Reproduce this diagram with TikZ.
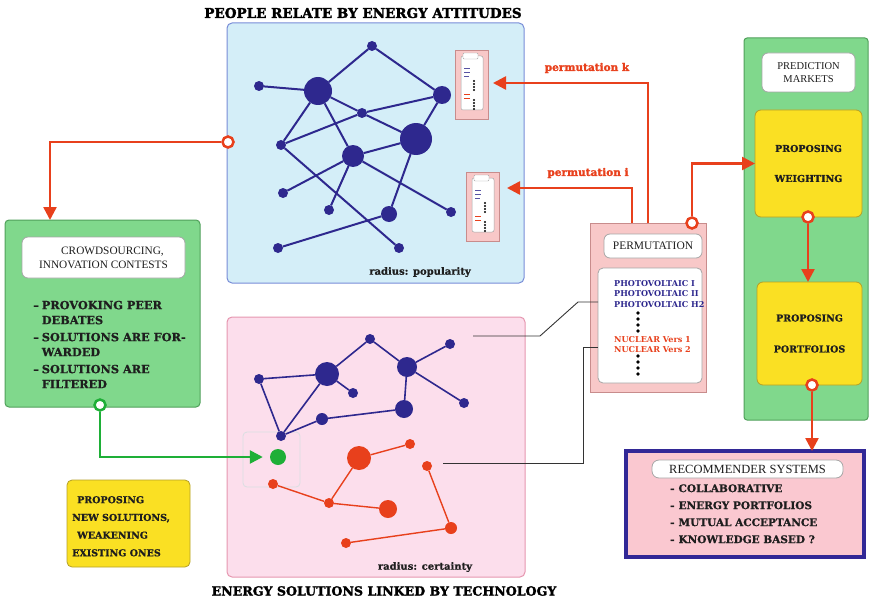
\documentclass[tikz,border=0pt]{standalone}
\usepackage{fontspec}
\setmainfont{Liberation Serif}
\newfontfamily\slab{DejaVu Serif}
\newfontfamily\heavyf{DejaVu Serif Bold}[FakeBold=2]
\newfontfamily\semiheavy{DejaVu Serif Bold}[FakeBold=0.8]
\usetikzlibrary{arrows.meta}
\definecolor{navy}{RGB}{46,40,142}
\definecolor{rorange}{RGB}{232,64,28}
\definecolor{gfill}{RGB}{128,216,140}
\definecolor{gborder}{RGB}{80,160,90}
\definecolor{garrow}{RGB}{30,175,55}
\definecolor{yfill}{RGB}{250,224,35}
\definecolor{yborder}{RGB}{180,160,40}
\definecolor{bluefill}{RGB}{212,238,248}
\definecolor{blueborder}{RGB}{120,140,215}
\definecolor{pinkfill}{RGB}{252,222,236}
\definecolor{pinkborder}{RGB}{230,150,175}
\definecolor{permfill}{RGB}{248,200,200}
\definecolor{permborder}{RGB}{200,140,140}
\definecolor{recfill}{RGB}{250,200,208}
\definecolor{recborder}{RGB}{50,40,150}
\definecolor{txt}{RGB}{30,30,30}
\newcommand\mycard[2]{%
\begin{scope}[shift={(#1,#2)}]
 \filldraw[fill=permfill, draw=permborder, line width=0.8pt] (0,0) rectangle (33,69);
 \filldraw[fill=white, draw=gray!70, rounded corners=2pt, line width=0.5pt] (6,6) rectangle (28,60);
 \filldraw[fill=white, draw=gray!70, rounded corners=1pt, line width=0.4pt] (8,3) rectangle (23,9);
 \draw[navy!80, line width=0.8pt] (9,18)--(15,18) (9,22)--(15,22) (9,26)--(14,26);
 \draw[rorange, line width=0.8pt] (9,44)--(15,44) (9,48)--(15,48);
 \foreach \d in {31,34,37,40,50,53,56,59} \fill[black] (19,\d) circle[radius=1.2pt];
\end{scope}}
\begin{document}
\begin{tikzpicture}[x=1pt,y=-1pt,
  panel/.style={draw, line width=1pt, rounded corners=5pt, inner sep=0pt, outer sep=0pt},
  sqbox/.style={draw, inner sep=0pt, outer sep=0pt},
  hdr/.style={draw=gray!70, fill=white, line width=0.8pt, rounded corners=6pt, inner sep=0pt, outer sep=0pt, text=txt, align=center},
  ybox/.style={draw=yborder, fill=yfill, line width=0.8pt, rounded corners=6pt, inner sep=0pt, outer sep=0pt, text=txt, align=center},
  nv/.style={circle, fill=navy, inner sep=0pt, outer sep=0pt, minimum size=#1},
  nr/.style={circle, fill=rorange, inner sep=0pt, outer sep=0pt, minimum size=#1},
  ring/.style={circle, draw=#1, fill=white, line width=2.5pt, inner sep=0pt, minimum size=11pt},
  redarrow/.style={draw=rorange, line width=2.5pt, -{Triangle[length=13pt,width=13pt]}},
  greenarrow/.style={draw=garrow, line width=2.5pt, -{Triangle[length=13pt,width=13pt]}},
  bedge/.style={draw=navy, line width=2pt},
  bedge2/.style={draw=navy, line width=1.6pt},
  redge/.style={draw=rorange, line width=1.4pt},
  blink/.style={draw=black!80, line width=0.9pt},
  heavy/.style={font=\heavyf\fontsize{13.5}{16}\selectfont, text=black},
  lbl/.style={font=\semiheavy\fontsize{10}{12}\selectfont, text=txt},
  redlbl/.style={font=\heavyf\fontsize{10.5}{12}\selectfont, text=rorange},
]
\useasboundingbox (0,0) rectangle (869,599);

% ---------- titles
\node[heavy] (title1) at (363,13) {PEOPLE RELATE BY ENERGY ATTITUDES};
\node[heavy, font=\heavyf\fontsize{12.6}{15}\selectfont] (title2) at (384,591) {ENERGY SOLUTIONS LINKED BY TECHNOLOGY};

% ---------- panels
\node[panel, fill=bluefill, draw=blueborder, minimum width=297pt, minimum height=260pt] (toppanel) at (375.5,153) {};
\node[panel, fill=pinkfill, draw=pinkborder, minimum width=298pt, minimum height=260pt] (botpanel) at (376,447) {};

% ---------- top network
\node[nv=10pt] (n1) at (259,86) {};
\node[nv=28pt] (n2) at (318,91) {};
\node[nv=10pt] (n3) at (372,46) {};
\node[nv=18pt] (n4) at (442,95) {};
\node[nv=10pt] (n5) at (362,113) {};
\node[nv=32pt] (n6) at (416,139) {};
\node[nv=10pt] (n7) at (281,145) {};
\node[nv=22pt] (n8) at (353,156) {};
\node[nv=10pt] (n9) at (283,193) {};
\node[nv=10pt] (n10) at (329,210) {};
\node[nv=16pt] (n11) at (389,214) {};
\node[nv=10pt] (n12) at (451,212) {};
\node[nv=10pt] (n13) at (278,248) {};
\node[nv=10pt] (n14) at (399,248) {};
\draw[bedge] (n1)--(n2) (n2)--(n3) (n3)--(n4) (n2)--(n7) (n2)--(n8) (n2)--(n5) (n5)--(n6)
  (n7)--(n5) (n5)--(n4) (n4)--(n6) (n6)--(n8) (n6)--(n11) (n8)--(n9) (n8)--(n10)
  (n8)--(n12) (n7)--(n14) (n11)--(n13);

\node[lbl] (pop) at (420,272) {radius: popularity};

% ---------- mini cards
\mycard{455}{50}
\mycard{466}{172}
\coordinate (kend) at (493,83);
\coordinate (iend) at (507,188);

% ---------- bottom network
\node[draw=cyan!15!gray!30, line width=0.8pt, rounded corners=4pt, minimum width=57pt, minimum height=55pt, inner sep=0pt] (hl) at (271.5,459.5) {};
\node[nv=10pt] (b1) at (259,379) {};
\node[nv=24pt] (b2) at (327,374) {};
\node[nv=10pt] (b3) at (370,339) {};
\node[nv=10pt] (b4) at (353,393) {};
\node[nv=20pt] (b5) at (407,367) {};
\node[nv=10pt] (b6) at (450,344) {};
\node[nv=10pt] (b7) at (464,403) {};
\node[nv=18pt] (b8) at (404,409) {};
\node[nv=12pt] (b9) at (322,419) {};
\node[nv=10pt] (b10) at (281,436) {};
\draw[bedge2] (b1)--(b2) (b2)--(b3) (b3)--(b5) (b5)--(b6) (b5)--(b7) (b5)--(b8)
  (b2)--(b4) (b2)--(b10) (b1)--(b10) (b10)--(b9) (b9)--(b8);
\node[nr=24pt] (r1) at (359,458) {};
\node[nr=10pt] (r2) at (410,444) {};
\node[nr=10pt] (r3) at (273,484) {};
\node[nr=10pt] (r4) at (329,503) {};
\node[nr=18pt] (r5) at (388,509) {};
\node[nr=10pt] (r6) at (427,466) {};
\node[nr=12pt] (r7) at (451,528) {};
\node[nr=10pt] (r8) at (346,543) {};
\draw[redge] (r1)--(r2) (r1)--(r4) (r3)--(r4) (r4)--(r5) (r6)--(r7) (r7)--(r8);
\node[circle, fill=garrow, inner sep=0pt, minimum size=16pt] (gdot) at (278,457) {};

\node[lbl] (cert) at (425,567) {radius: certainty};

% ---------- left green box
\node[panel, fill=gfill, draw=gborder, minimum width=195pt, minimum height=187pt, rounded corners=4pt] (crowd) at (102.5,313.5) {};
\node[hdr, minimum width=163pt, minimum height=41pt, font=\fontsize{11.3}{14}\selectfont] (crowdh) at (103.5,257.5) {\hspace*{18pt}CROWDSOURCING,\\INNOVATION CONTESTS};
\node[anchor=north west, inner sep=0pt, text=txt, font=\semiheavy\fontsize{11.3}{15}\selectfont] (crowdtxt) at (33,298.5)
 {\begin{tabular}{@{}l@{\hspace{3pt}}l@{}}
 – & PROVOKING PEER\\ & DEBATES\\[2pt]
 – & SOLUTIONS ARE FOR-\\ & WARDED\\[2pt]
 – & SOLUTIONS ARE\\ & FILTERED
 \end{tabular}};

% ---------- yellow box bottom left
\node[ybox, minimum width=123pt, minimum height=87pt, rounded corners=5pt] (newsol) at (128.5,523.5) {};
\node[anchor=north west, inner sep=0pt, text=txt, font=\semiheavy\fontsize{9.5}{17.7}\selectfont] (newsoltxt) at (72,490.6)
 {\begin{tabular}{@{}l@{}}
 \hspace{5pt}PROPOSING\\ NEW SOLUTIONS,\\ \hspace{5pt}WEAKENING\\ EXISTING ONES
 \end{tabular}};

% ---------- permutation box
\node[sqbox, fill=permfill, draw=permborder, line width=0.8pt, minimum width=116pt, minimum height=169pt] (perm) at (648,307.5) {};
\node[hdr, minimum width=98pt, minimum height=24pt, font=\fontsize{11.5}{14}\selectfont] (permh) at (653,246) {PERMUTATION};
\node[hdr, rounded corners=5pt, minimum width=104pt, minimum height=115pt] (permin) at (650,325.5) {};
\node[anchor=north west, inner sep=0pt, text=navy, font=\slab\bfseries\fontsize{8.1}{10.5}\selectfont] (pvtxt) at (614,278.6)
 {\begin{tabular}{@{}l@{}}PHOTOVOLTAIC I\\PHOTOVOLTAIC II\\PHOTOVOLTAIC H2\end{tabular}};
\node[anchor=north west, inner sep=0pt, text=rorange, font=\slab\bfseries\fontsize{8.1}{10.5}\selectfont] (nuctxt) at (614,334.6)
 {\begin{tabular}{@{}l@{}}NUCLEAR Vers 1\\NUCLEAR Vers 2\end{tabular}};
\foreach \d in {313,319,325,331,356,362,368,374} \fill[black] (638,\d) circle[radius=1.9pt];

% ---------- right green column
\node[panel, fill=gfill, draw=gborder, minimum width=124pt, minimum height=382pt, rounded corners=3pt] (pmcol) at (806,229) {};
\node[hdr, minimum width=93pt, minimum height=39pt, font=\fontsize{10.5}{13}\selectfont] (pmh) at (808.5,72.5) {PREDICTION\\MARKETS};
\node[ybox, minimum width=107pt, minimum height=107pt, font=\semiheavy\fontsize{9.5}{30}\selectfont] (weight) at (808.5,163.5) {PROPOSING\\WEIGHTING};
\node[ybox, minimum width=105pt, minimum height=103pt, font=\semiheavy\fontsize{9.5}{31}\selectfont] (portf) at (809.5,333.5) {PROPOSING\\PORTFOLIOS};

% ---------- recommender
\node[sqbox, fill=recfill, draw=recborder, line width=4pt, minimum width=238pt, minimum height=106pt] (rec) at (745,504) {};
\node[hdr, minimum width=191pt, minimum height=18pt, rounded corners=7pt, font=\fontsize{12.5}{14}\selectfont] (rech) at (747.5,469) {RECOMMENDER SYSTEMS};
\node[anchor=north west, inner sep=0pt, text=txt, font=\semiheavy\fontsize{10.5}{17}\selectfont] (rectxt) at (670,480)
 {\begin{tabular}{@{}l@{\hspace{4pt}}l@{}}
 - & COLLABORATIVE\\ - & ENERGY PORTFOLIOS\\ - & MUTUAL ACCEPTANCE\\ - & KNOWLEDGE BASED ?
 \end{tabular}};

% ---------- black links
\coordinate (l1a) at (473,336);
\coordinate (l1b) at (540,336);
\coordinate (l1c) at (578,302);
\coordinate (l1d) at (598,302);
\draw[blink] (l1a) -- (l1b) -- (l1c) -- (l1d);
\coordinate (l2a) at (443,463);
\coordinate (l2b) at (583,463);
\coordinate (l2c) at (583,347);
\coordinate (l2d) at (598,347);
\draw[blink] (l2a) -- (l2b) -- (l2c) -- (l2d);

% ---------- red connectors
\node[ring=rorange] (topcirc) at (228,142) {};
\draw[redarrow] (topcirc.west) -| ([xshift=45pt]crowd.north west);
\draw[redarrow] (perm.north) |- (kend);
\draw[redarrow] ([xshift=-16pt]perm.north) |- (iend);
\node[redlbl] (permk) at (587,68) {permutation k};
\node[redlbl] (permi) at (588,173) {permutation i};
\node[ring=rorange] (permcirc) at (692,223) {};
\draw[redarrow] (permcirc.north) |- (weight.west);
\node[ring=rorange] (wcirc) at (808,217) {};
\draw[redarrow] (wcirc.south) -- (wcirc.south |- portf.north);
\node[ring=rorange] (pcirc) at (812,385) {};
\draw[redarrow] (pcirc.south) -- (pcirc.south |- rec.north);

% ---------- green connector
\node[ring=garrow] (gcirc) at (100,405) {};
\draw[greenarrow, shorten >=7pt] (gcirc.south) |- (gdot.west);
\end{tikzpicture}
\end{document}
